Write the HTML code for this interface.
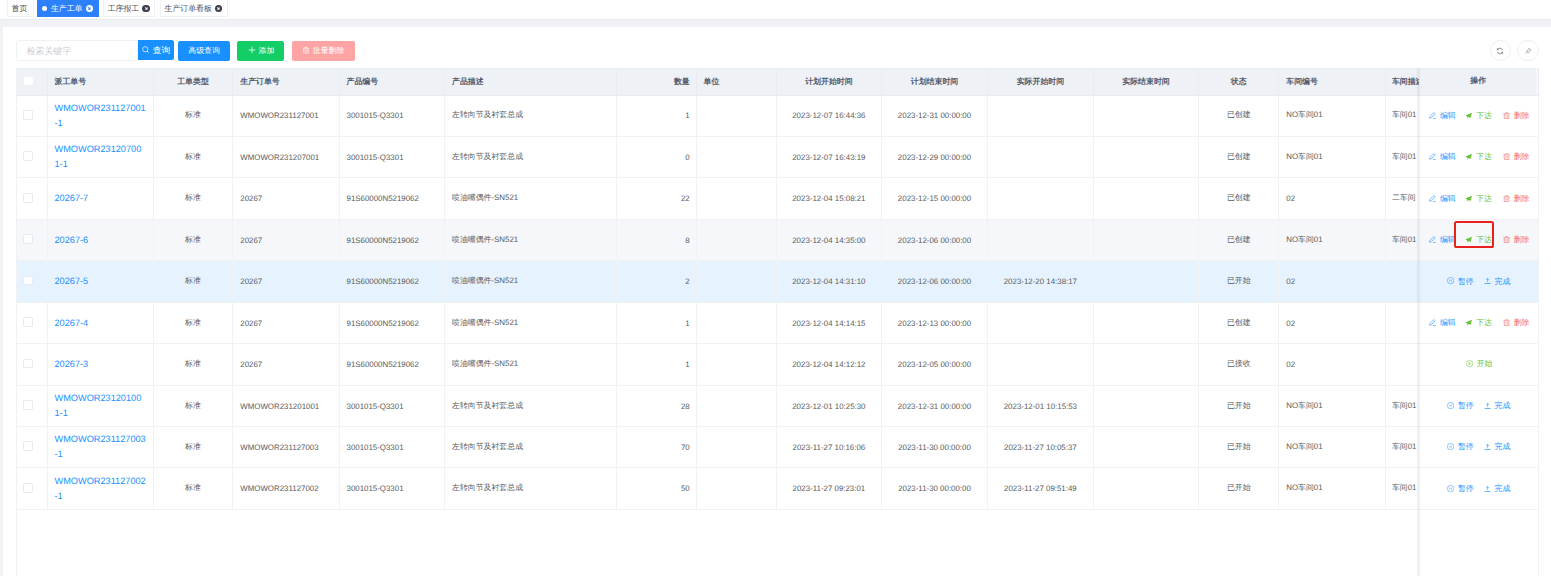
<!DOCTYPE html>
<html lang="zh"><head><meta charset="utf-8"><title>生产工单</title>
<style>
*{box-sizing:border-box;margin:0;padding:0}
html,body{width:1551px;height:576px;overflow:hidden}
body{text-rendering:geometricPrecision;-webkit-font-smoothing:antialiased;background:#f0f2f5;font-family:"Liberation Sans",sans-serif;font-size:7.9px;color:#606266;position:relative}
.tabs{position:absolute;left:0;top:0;width:1551px;height:19.8px;background:#fff;border-bottom:1px solid #e9ebef}
.tab{position:absolute;top:0;height:16.6px;overflow:hidden;border:1px solid #f0f1f5;border-top:0;background:#fff;color:#495060;font-size:7.9px;line-height:18.6px;white-space:nowrap;padding-left:4px}
.tab.act{background:#2d80fc;border-color:#2d80fc;color:#fff}
.dot{display:inline-block;width:5.4px;height:5.4px;border-radius:50%;background:#fff;vertical-align:middle;margin-right:3.5px;position:relative;top:-0.2px}
.x{display:block;width:7.2px;height:7.2px;border-radius:50%;background:#3a3f4a;position:absolute;top:5px}
.x:before,.x:after{content:"";position:absolute;left:3.2px;top:1.9px;width:0.8px;height:3.4px;background:#fff;transform:rotate(45deg)}
.x:after{transform:rotate(-45deg)}
.tab.act .x{background:#fff}
.tab.act .x:before,.tab.act .x:after{background:#2d80fc}
.card{position:absolute;left:3px;top:26.5px;width:1548px;height:549px;background:#fff}
.inp{position:absolute;left:16.1px;top:39.6px;width:122px;height:21.5px;border:1px solid #f0f1f4;border-radius:2.5px 0 0 2.5px;background:#fff;color:#cbced5;line-height:21.6px;padding-left:9.6px;font-size:8.9px}
.btn{position:absolute;top:41px;height:19.6px;border-radius:2px;color:#fff;font-size:7.9px;line-height:19.6px;text-align:center;white-space:nowrap;overflow:hidden}
.btn svg{width:8px;height:8px;vertical-align:middle;position:relative;top:-0.8px;margin-right:2.5px}
.circ{position:absolute;top:39.5px;width:21.7px;height:21.7px;border-radius:50%;border:1px solid #eceef2;background:#fff}
.circ svg{position:absolute;left:5.9px;top:6.2px;width:8px;height:8px}
table{position:absolute;left:16.25px;top:68px;border-collapse:separate;border-spacing:0;table-layout:fixed;width:1522.25px}
th,td{border-right:1px solid #f1f2f5;border-bottom:1px solid #f1f2f4;padding:0 7px;overflow:hidden;white-space:nowrap;text-align:left;vertical-align:middle}
th{height:27.56px;padding-top:1.2px;background:#eef1f6;color:#515a6e;font-weight:bold;font-size:7.9px;border-right-color:#e9ecf3;border-bottom-color:#e9ebf0;border-top:1px solid #ebecf0}
td{height:41.44px;padding-top:0.4px;background:#fff;font-size:7.9px;color:#585b61}
th:first-child,td:first-child{border-left:1px solid #f0f1f5}
.c{text-align:center}
td:first-child,th:first-child{text-align:left;padding:0 0 0 6.9px}
.rt{text-align:right;padding-right:5.8px}
td a{color:#1890ff;font-size:9.2px;line-height:15.2px;display:block;white-space:normal;position:relative;top:0px}
.cb{display:inline-block;width:9.7px;height:9.7px;position:relative;top:-1px;left:-0.9px;border:1px solid #e8eaef;border-radius:1.3px;background:#fff;vertical-align:middle}
th .cb{border-color:#fff;top:-0.9px;width:8.6px;height:8.6px;left:0px}
tr.hover td{background:#f5f7fa}
tr.cur td{background:#e6f3ff}
td.last,th.last{padding-right:0;border-right:0;padding-left:6.4px}
.clip{width:27px;overflow:hidden}
td.op,th.op{padding:0;overflow:visible;position:relative}
.fshadow{position:absolute;left:1415.7px;top:68px;width:5px;height:508px;background:linear-gradient(to right,rgba(0,0,0,0),rgba(0,0,0,.03) 25%,rgba(0,0,0,.068) 50%,rgba(0,0,0,.03) 75%,rgba(0,0,0,0))}
.ops{position:relative;width:100%;height:39px}
.a{position:absolute;top:14.5px;line-height:10px;font-size:7.9px;white-space:nowrap}
.b{color:#1890ff}.g{color:#67c23a}.r{color:#f56c6c}
.ic{width:7.2px;height:7.2px;vertical-align:middle;margin-right:3.9px;position:relative;top:-0.4px}
.vline{position:absolute;top:510px;height:66px;width:1px;background:#f0f1f5}
.redbox{position:absolute;left:1454px;top:221px;width:39.6px;height:27px;border:2.1px solid #e8211c;border-radius:2.6px}
</style></head><body>
<div class="tabs">
 <div class="tab" style="left:6.5px;width:27px">首页</div>
 <div class="tab act" style="left:37px;width:61.8px"><span class="dot"></span>生产工单<span class="x" style="left:47.9px"></span></div>
 <div class="tab" style="left:102.7px;width:52.7px">工序报工<span class="x" style="left:38.8px"></span></div>
 <div class="tab" style="left:159.5px;width:68px">生产订单看板<span class="x" style="left:54.6px"></span></div>
</div>
<div class="card"></div>
<div class="inp">检索关键字</div>
<div class="btn" style="left:137.6px;top:40.2px;width:36.5px;background:#1890ff;border-radius:0 2.5px 2.5px 0;font-size:8.7px;text-align:left;padding-left:4.3px;line-height:20px"><svg style="width:7.5px;height:7.5px;margin-right:3.3px;top:-0.9px" viewBox="0 0 16 16"><circle cx="7" cy="7" r="5.6" fill="none" stroke="#fff" stroke-width="1.5"/><path d="M11 11l3.5 3.5" stroke="#fff" stroke-width="1.5"/></svg>查询</div>
<div class="btn" style="left:178px;width:52.2px;background:#1890ff;text-align:left;padding-left:10.3px">高级查询</div>
<div class="btn" style="left:237.1px;width:47.3px;background:#13ce66;text-align:left;padding-left:10.9px"><svg viewBox="0 0 16 16"><path d="M8 1.5v13M1.5 8h13" stroke="#fff" stroke-width="1.5"/></svg>添加</div>
<div class="btn" style="left:291.6px;width:63.2px;background:#ffa4a4;text-align:left;padding-left:10.7px"><svg viewBox="0 0 16 16"><path d="M2 4.5h12M6 4V2.5h4V4M3.5 4.5v9.5h9V4.5M6.5 7v4.5M9.5 7v4.5" fill="none" stroke="#fff" stroke-width="1.3"/></svg>批量删除</div>
<div class="circ" style="left:1489.6px"><svg viewBox="0 0 16 16"><path d="M13.5 6.5A5.8 5.8 0 0 0 3 5.2M2.5 9.5A5.8 5.8 0 0 0 13 10.8" fill="none" stroke="#606266" stroke-width="1.4"/><path d="M2.6 2.6v3h3M13.4 13.4v-3h-3" fill="none" stroke="#606266" stroke-width="1.4"/></svg></div>
<div class="circ" style="left:1517.3px"><svg viewBox="0 0 16 16"><path d="M9.5 2l4.5 4.5-2 .3-2.2 2.2.2 2.5-1 1L4.5 8l1-1 2.5.2L10.2 5z M6.5 9.5L2.5 13.5" fill="none" stroke="#909399" stroke-width="1.3"/></svg></div>
<table>
<colgroup><col style="width:31.25px"><col style="width:106.25px"><col style="width:79.5px"><col style="width:106.25px"><col style="width:105.5px"><col style="width:172px"><col style="width:79.5px"><col style="width:80.25px"><col style="width:105.25px"><col style="width:106px"><col style="width:105.75px"><col style="width:105.5px"><col style="width:80px"><col style="width:106.25px"><col style="width:33.25px"><col style="width:119.75px"></colgroup>
<thead><tr>
<th class="c"><span class="cb"></span></th><th>派工单号</th><th class="c">工单类型</th><th>生产订单号</th><th>产品编号</th><th>产品描述</th><th class="rt">数量</th><th>单位</th><th class="c">计划开始时间</th><th class="c">计划结束时间</th><th class="c">实际开始时间</th><th class="c">实际结束时间</th><th class="c">状态</th><th>车间编号</th><th class="last"><div class="clip">车间描述</div></th><th class="op c">操作</th>
</tr></thead>
<tbody>
<tr class=""><td class="c"><span class="cb"></span></td><td><a>WMOWOR231127001<br>-1</a></td><td class="c">标准</td><td>WMOWOR231127001</td><td>3001015-Q3301</td><td>左转向节及衬套总成</td><td class="rt">1</td><td></td><td class="c">2023-12-07 16:44:36</td><td class="c">2023-12-31 00:00:00</td><td class="c"></td><td class="c"></td><td class="c">已创建</td><td>NO车间01</td><td class="last"><div class="clip">车间01</div></td><td class="op"><div class="ops"><span class="a b" style="left:10.1px"><svg class="ic" viewBox="0 0 16 16"><path d="M10.8 1.2l3 3-8.6 8.6-3.9 1 1-3.9z" fill="none" stroke="currentColor" stroke-width="1.3"/><path d="M8.5 14.8h7" stroke="currentColor" stroke-width="1.3"/></svg>编辑</span><span class="a g" style="left:46.4px"><svg class="ic" viewBox="0 0 16 16"><path d="M15.5 1.5L0.5 8l4.6 2 .3 4.8 2.7-3.4 4.1 2.1z" fill="currentColor"/></svg>下达</span><span class="a r" style="left:83.8px"><svg class="ic" viewBox="0 0 16 16"><path d="M1 4h14M5.5 3.6V1.5h5v2.1M2.8 4v10.5h10.4V4M6.3 7v5M9.7 7v5" fill="none" stroke="currentColor" stroke-width="1.3"/></svg>删除</span></div></td></tr>
<tr class=""><td class="c"><span class="cb"></span></td><td><a>WMOWOR23120700<br>1-1</a></td><td class="c">标准</td><td>WMOWOR231207001</td><td>3001015-Q3301</td><td>左转向节及衬套总成</td><td class="rt">0</td><td></td><td class="c">2023-12-07 16:43:19</td><td class="c">2023-12-29 00:00:00</td><td class="c"></td><td class="c"></td><td class="c">已创建</td><td>NO车间01</td><td class="last"><div class="clip">车间01</div></td><td class="op"><div class="ops"><span class="a b" style="left:10.1px"><svg class="ic" viewBox="0 0 16 16"><path d="M10.8 1.2l3 3-8.6 8.6-3.9 1 1-3.9z" fill="none" stroke="currentColor" stroke-width="1.3"/><path d="M8.5 14.8h7" stroke="currentColor" stroke-width="1.3"/></svg>编辑</span><span class="a g" style="left:46.4px"><svg class="ic" viewBox="0 0 16 16"><path d="M15.5 1.5L0.5 8l4.6 2 .3 4.8 2.7-3.4 4.1 2.1z" fill="currentColor"/></svg>下达</span><span class="a r" style="left:83.8px"><svg class="ic" viewBox="0 0 16 16"><path d="M1 4h14M5.5 3.6V1.5h5v2.1M2.8 4v10.5h10.4V4M6.3 7v5M9.7 7v5" fill="none" stroke="currentColor" stroke-width="1.3"/></svg>删除</span></div></td></tr>
<tr class=""><td class="c"><span class="cb"></span></td><td><a>20267-7</a></td><td class="c">标准</td><td>20267</td><td>91S60000N5219062</td><td>喷油嘴偶件-SN521</td><td class="rt">22</td><td></td><td class="c">2023-12-04 15:08:21</td><td class="c">2023-12-15 00:00:00</td><td class="c"></td><td class="c"></td><td class="c">已创建</td><td>02</td><td class="last"><div class="clip">二车间</div></td><td class="op"><div class="ops"><span class="a b" style="left:10.1px"><svg class="ic" viewBox="0 0 16 16"><path d="M10.8 1.2l3 3-8.6 8.6-3.9 1 1-3.9z" fill="none" stroke="currentColor" stroke-width="1.3"/><path d="M8.5 14.8h7" stroke="currentColor" stroke-width="1.3"/></svg>编辑</span><span class="a g" style="left:46.4px"><svg class="ic" viewBox="0 0 16 16"><path d="M15.5 1.5L0.5 8l4.6 2 .3 4.8 2.7-3.4 4.1 2.1z" fill="currentColor"/></svg>下达</span><span class="a r" style="left:83.8px"><svg class="ic" viewBox="0 0 16 16"><path d="M1 4h14M5.5 3.6V1.5h5v2.1M2.8 4v10.5h10.4V4M6.3 7v5M9.7 7v5" fill="none" stroke="currentColor" stroke-width="1.3"/></svg>删除</span></div></td></tr>
<tr class="hover"><td class="c"><span class="cb"></span></td><td><a>20267-6</a></td><td class="c">标准</td><td>20267</td><td>91S60000N5219062</td><td>喷油嘴偶件-SN521</td><td class="rt">8</td><td></td><td class="c">2023-12-04 14:35:00</td><td class="c">2023-12-06 00:00:00</td><td class="c"></td><td class="c"></td><td class="c">已创建</td><td>NO车间01</td><td class="last"><div class="clip">车间01</div></td><td class="op"><div class="ops"><span class="a b" style="left:10.1px"><svg class="ic" viewBox="0 0 16 16"><path d="M10.8 1.2l3 3-8.6 8.6-3.9 1 1-3.9z" fill="none" stroke="currentColor" stroke-width="1.3"/><path d="M8.5 14.8h7" stroke="currentColor" stroke-width="1.3"/></svg>编辑</span><span class="a g" style="left:46.4px"><svg class="ic" viewBox="0 0 16 16"><path d="M15.5 1.5L0.5 8l4.6 2 .3 4.8 2.7-3.4 4.1 2.1z" fill="currentColor"/></svg>下达</span><span class="a r" style="left:83.8px"><svg class="ic" viewBox="0 0 16 16"><path d="M1 4h14M5.5 3.6V1.5h5v2.1M2.8 4v10.5h10.4V4M6.3 7v5M9.7 7v5" fill="none" stroke="currentColor" stroke-width="1.3"/></svg>删除</span></div></td></tr>
<tr class="cur"><td class="c"><span class="cb"></span></td><td><a>20267-5</a></td><td class="c">标准</td><td>20267</td><td>91S60000N5219062</td><td>喷油嘴偶件-SN521</td><td class="rt">2</td><td></td><td class="c">2023-12-04 14:31:10</td><td class="c">2023-12-06 00:00:00</td><td class="c">2023-12-20 14:38:17</td><td class="c"></td><td class="c">已开始</td><td>02</td><td class="last"><div class="clip"></div></td><td class="op"><div class="ops"><span class="a b" style="left:28.1px"><svg class="ic" viewBox="0 0 16 16"><circle cx="8" cy="8" r="7.2" fill="none" stroke="currentColor" stroke-width="1.1"/><path d="M6.4 5.6v4.8M9.6 5.6v4.8" stroke="currentColor" stroke-width="1.1"/></svg>暂停</span><span class="a b" style="left:65.7px"><svg class="ic" style="margin-right:2.9px" viewBox="0 0 16 16"><path d="M1.5 14.3h13" fill="none" stroke="currentColor" stroke-width="1.6"/><path d="M8 11.5V3M4.5 6.5L8 3l3.500 3.500" fill="none" stroke="currentColor" stroke-width="1.2"/></svg>完成</span></div></td></tr>
<tr class=""><td class="c"><span class="cb"></span></td><td><a>20267-4</a></td><td class="c">标准</td><td>20267</td><td>91S60000N5219062</td><td>喷油嘴偶件-SN521</td><td class="rt">1</td><td></td><td class="c">2023-12-04 14:14:15</td><td class="c">2023-12-13 00:00:00</td><td class="c"></td><td class="c"></td><td class="c">已创建</td><td>02</td><td class="last"><div class="clip"></div></td><td class="op"><div class="ops"><span class="a b" style="left:10.1px"><svg class="ic" viewBox="0 0 16 16"><path d="M10.8 1.2l3 3-8.6 8.6-3.9 1 1-3.9z" fill="none" stroke="currentColor" stroke-width="1.3"/><path d="M8.5 14.8h7" stroke="currentColor" stroke-width="1.3"/></svg>编辑</span><span class="a g" style="left:46.4px"><svg class="ic" viewBox="0 0 16 16"><path d="M15.5 1.5L0.5 8l4.6 2 .3 4.8 2.7-3.4 4.1 2.1z" fill="currentColor"/></svg>下达</span><span class="a r" style="left:83.8px"><svg class="ic" viewBox="0 0 16 16"><path d="M1 4h14M5.5 3.6V1.5h5v2.1M2.8 4v10.5h10.4V4M6.3 7v5M9.7 7v5" fill="none" stroke="currentColor" stroke-width="1.3"/></svg>删除</span></div></td></tr>
<tr class=""><td class="c"><span class="cb"></span></td><td><a>20267-3</a></td><td class="c">标准</td><td>20267</td><td>91S60000N5219062</td><td>喷油嘴偶件-SN521</td><td class="rt">1</td><td></td><td class="c">2023-12-04 14:12:12</td><td class="c">2023-12-05 00:00:00</td><td class="c"></td><td class="c"></td><td class="c">已接收</td><td>02</td><td class="last"><div class="clip"></div></td><td class="op"><div class="ops"><span class="a g" style="left:46.8px"><svg class="ic" viewBox="0 0 16 16"><circle cx="8" cy="8" r="7.2" fill="none" stroke="currentColor" stroke-width="1.1"/><path d="M6.5 5l4.600 3-4.600 3z" fill="none" stroke="currentColor" stroke-width="1.1"/></svg>开始</span></div></td></tr>
<tr class=""><td class="c"><span class="cb"></span></td><td><a>WMOWOR23120100<br>1-1</a></td><td class="c">标准</td><td>WMOWOR231201001</td><td>3001015-Q3301</td><td>左转向节及衬套总成</td><td class="rt">28</td><td></td><td class="c">2023-12-01 10:25:30</td><td class="c">2023-12-31 00:00:00</td><td class="c">2023-12-01 10:15:53</td><td class="c"></td><td class="c">已开始</td><td>NO车间01</td><td class="last"><div class="clip">车间01</div></td><td class="op"><div class="ops"><span class="a b" style="left:28.1px"><svg class="ic" viewBox="0 0 16 16"><circle cx="8" cy="8" r="7.2" fill="none" stroke="currentColor" stroke-width="1.1"/><path d="M6.4 5.6v4.8M9.6 5.6v4.8" stroke="currentColor" stroke-width="1.1"/></svg>暂停</span><span class="a b" style="left:65.7px"><svg class="ic" style="margin-right:2.9px" viewBox="0 0 16 16"><path d="M1.5 14.3h13" fill="none" stroke="currentColor" stroke-width="1.6"/><path d="M8 11.5V3M4.5 6.5L8 3l3.500 3.500" fill="none" stroke="currentColor" stroke-width="1.2"/></svg>完成</span></div></td></tr>
<tr class=""><td class="c"><span class="cb"></span></td><td><a>WMOWOR231127003<br>-1</a></td><td class="c">标准</td><td>WMOWOR231127003</td><td>3001015-Q3301</td><td>左转向节及衬套总成</td><td class="rt">70</td><td></td><td class="c">2023-11-27 10:16:06</td><td class="c">2023-11-30 00:00:00</td><td class="c">2023-11-27 10:05:37</td><td class="c"></td><td class="c">已开始</td><td>NO车间01</td><td class="last"><div class="clip">车间01</div></td><td class="op"><div class="ops"><span class="a b" style="left:28.1px"><svg class="ic" viewBox="0 0 16 16"><circle cx="8" cy="8" r="7.2" fill="none" stroke="currentColor" stroke-width="1.1"/><path d="M6.4 5.6v4.8M9.6 5.6v4.8" stroke="currentColor" stroke-width="1.1"/></svg>暂停</span><span class="a b" style="left:65.7px"><svg class="ic" style="margin-right:2.9px" viewBox="0 0 16 16"><path d="M1.5 14.3h13" fill="none" stroke="currentColor" stroke-width="1.6"/><path d="M8 11.5V3M4.5 6.5L8 3l3.500 3.500" fill="none" stroke="currentColor" stroke-width="1.2"/></svg>完成</span></div></td></tr>
<tr class=""><td class="c"><span class="cb"></span></td><td><a>WMOWOR231127002<br>-1</a></td><td class="c">标准</td><td>WMOWOR231127002</td><td>3001015-Q3301</td><td>左转向节及衬套总成</td><td class="rt">50</td><td></td><td class="c">2023-11-27 09:23:01</td><td class="c">2023-11-30 00:00:00</td><td class="c">2023-11-27 09:51:49</td><td class="c"></td><td class="c">已开始</td><td>NO车间01</td><td class="last"><div class="clip">车间01</div></td><td class="op"><div class="ops"><span class="a b" style="left:28.1px"><svg class="ic" viewBox="0 0 16 16"><circle cx="8" cy="8" r="7.2" fill="none" stroke="currentColor" stroke-width="1.1"/><path d="M6.4 5.6v4.8M9.6 5.6v4.8" stroke="currentColor" stroke-width="1.1"/></svg>暂停</span><span class="a b" style="left:65.7px"><svg class="ic" style="margin-right:2.9px" viewBox="0 0 16 16"><path d="M1.5 14.3h13" fill="none" stroke="currentColor" stroke-width="1.6"/><path d="M8 11.5V3M4.5 6.5L8 3l3.500 3.500" fill="none" stroke="currentColor" stroke-width="1.2"/></svg>完成</span></div></td></tr>
</tbody></table>
<div class="vline" style="left:16.25px"></div>
<div class="fshadow"></div>
<div class="vline" style="left:1538px"></div>
<div style="position:absolute;left:1536px;top:68px;width:2.2px;height:26.6px;background:#f6f7fa"></div>
<div class="redbox"></div>
</body></html>
